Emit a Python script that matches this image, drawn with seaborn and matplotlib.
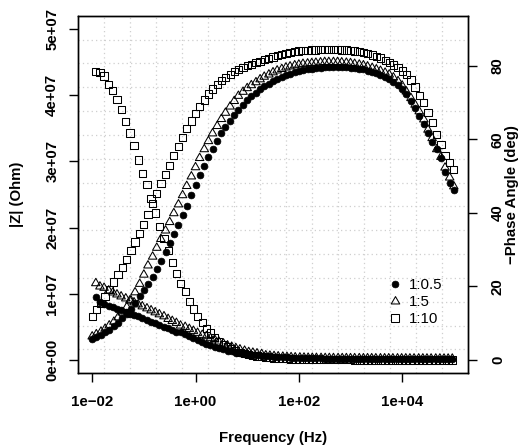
import numpy as np
import pandas as pd
import matplotlib
matplotlib.use("Agg")
import matplotlib.pyplot as plt
from matplotlib.lines import Line2D
from matplotlib.path import Path
import seaborn as sns

# ---------------- data ----------------
SERIES = ["1:0.5", "1:5", "1:10"]

# log10 of frequency (Hz) for the phase points
LOG_FREQ_PHASE = [
    -2.00, -1.92, -1.83, -1.75, -1.67, -1.58, -1.50, -1.42, -1.33, -1.25, -1.17, -1.08,
    -1.00, -0.92, -0.83, -0.75, -0.67, -0.58, -0.50, -0.42, -0.33, -0.25, -0.17, -0.08,
    0.00, 0.08, 0.17, 0.25, 0.33, 0.42, 0.50, 0.58, 0.67, 0.75, 0.83, 0.92,
    1.00, 1.08, 1.17, 1.25, 1.33, 1.42, 1.50, 1.58, 1.67, 1.75, 1.83, 1.92,
    2.00, 2.08, 2.17, 2.25, 2.33, 2.42, 2.50, 2.58, 2.67, 2.75, 2.83, 2.92,
    3.00, 3.08, 3.17, 3.25, 3.33, 3.42, 3.50, 3.58, 3.67, 3.75, 3.83, 3.92,
    4.00, 4.08, 4.17, 4.25, 4.33, 4.42, 4.50, 4.58, 4.67, 4.75, 4.83, 4.92,
    5.00,
]
# log10 of frequency (Hz) for the |Z| points
LOG_FREQ_ZMOD = [
    -1.93, -1.85, -1.77, -1.68, -1.60, -1.52, -1.44, -1.35, -1.27, -1.19,
    -1.11, -1.03, -0.94, -0.86, -0.78, -0.70, -0.61, -0.53, -0.45, -0.37,
    -0.29, -0.20, -0.12, -0.04, 0.04, 0.13, 0.21, 0.29, 0.37, 0.45,
    0.54, 0.62, 0.70, 0.78, 0.86, 0.95, 1.03, 1.11, 1.19, 1.28,
    1.36, 1.44, 1.52, 1.60, 1.69, 1.77, 1.85, 1.93, 2.02, 2.10,
    2.18, 2.26, 2.34, 2.43, 2.51, 2.59, 2.67, 2.76, 2.84, 2.92,
    3.00, 3.08, 3.17, 3.25, 3.33, 3.41, 3.49, 3.58, 3.66, 3.74,
    3.82, 3.91, 3.99, 4.07, 4.15, 4.23, 4.32, 4.40, 4.48, 4.56,
    4.65, 4.73, 4.81, 4.89, 4.97,
]

# |Z| in units of 1e7 Ohm
ZMOD_1_05 = [
    0.95, 0.87, 0.85, 0.82, 0.80, 0.77, 0.75, 0.73, 0.70, 0.68,
    0.66, 0.63, 0.61, 0.58, 0.56, 0.53, 0.50, 0.48, 0.45, 0.43,
    0.42, 0.39, 0.36, 0.33, 0.30, 0.28, 0.25, 0.23, 0.20, 0.18,
    0.16, 0.14, 0.13, 0.11, 0.10, 0.09, 0.08, 0.075, 0.07, 0.065,
    0.06, 0.055, 0.05, 0.046, 0.042, 0.039, 0.036, 0.033, 0.031, 0.029,
    0.027, 0.026, 0.025, 0.024, 0.023, 0.022, 0.022, 0.021, 0.021, 0.020,
    0.020, 0.020, 0.020, 0.019, 0.019, 0.019, 0.019, 0.018, 0.018, 0.018,
    0.018, 0.017, 0.017, 0.017, 0.017, 0.016, 0.016, 0.016, 0.016, 0.015,
    0.015, 0.015, 0.015, 0.014, 0.014,
]
ZMOD_1_5 = [
    1.16, 1.11, 1.09, 1.05, 1.02, 0.99, 0.96, 0.93, 0.90, 0.87,
    0.84, 0.81, 0.78, 0.75, 0.72, 0.69, 0.66, 0.62, 0.59, 0.56,
    0.52, 0.50, 0.47, 0.44, 0.41, 0.38, 0.36, 0.33, 0.31, 0.28,
    0.25, 0.22, 0.20, 0.18, 0.16, 0.14, 0.12, 0.11, 0.10, 0.09,
    0.07, 0.065, 0.06, 0.055, 0.05, 0.046, 0.043, 0.04, 0.038, 0.036,
    0.034, 0.033, 0.032, 0.031, 0.030, 0.030, 0.029, 0.029, 0.028, 0.028,
    0.027, 0.027, 0.027, 0.026, 0.026, 0.026, 0.025, 0.025, 0.025, 0.025,
    0.024, 0.024, 0.024, 0.024, 0.023, 0.023, 0.023, 0.023, 0.022, 0.022,
    0.022, 0.022, 0.021, 0.021, 0.021,
]
ZMOD_1_10 = [
    4.36, 4.34, 4.29, 4.16, 4.07, 3.93, 3.78, 3.60, 3.43, 3.24,
    3.02, 2.82, 2.65, 2.44, 2.22, 2.02, 1.84, 1.66, 1.47, 1.31,
    1.16, 1.03, 0.89, 0.77, 0.66, 0.57, 0.48, 0.41, 0.34, 0.28,
    0.24, 0.21, 0.17, 0.14, 0.12, 0.10, 0.085, 0.07, 0.06, 0.05,
    0.042, 0.036, 0.03, 0.026, 0.022, 0.019, 0.016, 0.014, 0.012, 0.010,
    0.009, 0.008, 0.007, 0.006, 0.005, 0.005, 0.004, 0.004, 0.003, 0.003,
    0.003, 0.002, 0.002, 0.002, 0.002, 0.002, 0.002, 0.002, 0.002, 0.001,
    0.001, 0.001, 0.001, 0.001, 0.001, 0.001, 0.001, 0.001, 0.001, 0.001,
    0.001, 0.001, 0.001, 0.001, 0.001,
]

# -Phase angle in degrees
PHASE_1_05 = [
    5.7, 6.2, 6.8, 7.5, 8.3, 9.2, 10.2, 11.3, 12.6, 14.0,
    15.6, 17.4, 19.0, 20.8, 22.7, 24.8, 27.0, 29.3, 31.9, 34.3,
    36.8, 39.3, 42.0, 44.8, 47.5, 50.2, 52.8, 55.2, 57.5, 59.6,
    61.6, 63.4, 65.1, 66.6, 68.0, 69.3, 70.6, 71.7, 72.7, 73.6,
    74.4, 75.1, 75.8, 76.4, 76.9, 77.4, 77.8, 78.2, 78.5, 78.8,
    79.0, 79.2, 79.4, 79.5, 79.6, 79.7, 79.7, 79.7, 79.7, 79.6,
    79.5, 79.4, 79.2, 79.0, 78.7, 78.4, 78.0, 77.6, 77.0, 76.4,
    75.6, 74.8, 73.7, 72.3, 70.5, 68.4, 66.4, 64.2, 61.6, 59.2,
    57.3, 54.8, 51.0, 48.2, 46.3,
]
PHASE_1_5 = [
    6.4, 7.0, 7.7, 8.5, 9.4, 10.4, 11.6, 12.9, 14.4, 16.2,
    18.4, 20.7, 23.2, 25.7, 28.1, 30.5, 32.9, 35.2, 37.5, 39.9,
    42.3, 44.8, 47.3, 49.9, 52.4, 54.9, 57.3, 59.5, 61.6, 63.6,
    65.5, 67.2, 68.9, 70.4, 71.8, 72.9, 73.9, 74.7, 75.5, 76.3,
    77.0, 77.6, 78.2, 78.7, 79.1, 79.5, 79.8, 80.1, 80.3, 80.5,
    80.6, 80.7, 80.8, 80.9, 81.0, 81.0, 81.0, 81.0, 80.9, 80.8,
    80.7, 80.5, 80.3, 80.1, 79.8, 79.4, 79.0, 78.6, 78.1, 77.6,
    76.8, 75.8, 74.6, 73.0, 71.2, 69.4, 67.6, 65.4, 62.6, 60.3,
    57.3, 55.2, 52.3, 49.6, 47.2,
]
PHASE_1_10 = [
    11.8, 13.7, 15.4, 17.3, 19.2, 21.2, 23.3, 25.2, 27.4, 29.8,
    32.1, 34.3, 36.9, 39.6, 42.6, 45.3, 48.0, 50.4, 52.9, 55.5,
    58.0, 60.4, 62.9, 65.0, 67.0, 68.9, 70.7, 72.3, 73.7, 74.9,
    76.0, 76.8, 77.7, 78.4, 79.0, 79.5, 80.0, 80.4, 80.8, 81.2,
    81.6, 82.0, 82.4, 82.8, 83.1, 83.4, 83.6, 83.8, 84.0, 84.1,
    84.2, 84.3, 84.3, 84.4, 84.4, 84.4, 84.4, 84.4, 84.3, 84.3,
    84.2, 84.0, 83.8, 83.6, 83.3, 82.9, 82.6, 82.1, 81.5, 80.9,
    80.2, 79.6, 78.6, 77.6, 76.1, 74.2, 72.0, 70.0, 67.2, 64.6,
    61.3, 58.6, 55.5, 53.6, 51.9,
]

X_TICKS = [1e-2, 1e0, 1e2, 1e4]
X_TICK_LABELS = ["1e\u221202", "1e+00", "1e+02", "1e+04"]
Z_TICKS = [0, 1e7, 2e7, 3e7, 4e7, 5e7]
Z_TICK_LABELS = ["0e+00", "1e+07", "2e+07", "3e+07", "4e+07", "5e+07"]
PHASE_TICKS = [0, 20, 40, 60, 80]
PHASE_TICK_LABELS = ["0", "20", "40", "60", "80"]
Z_UNIT = 1e7

# ---------------- tables ----------------
zmod_vals = {"1:0.5": ZMOD_1_05, "1:5": ZMOD_1_5, "1:10": ZMOD_1_10}
phase_vals = {"1:0.5": PHASE_1_05, "1:5": PHASE_1_5, "1:10": PHASE_1_10}
zdf = pd.concat([
    pd.DataFrame({"freq": 10 ** np.array(LOG_FREQ_ZMOD),
                  "zmod": np.array(zmod_vals[s]) * Z_UNIT, "ratio": s})
    for s in SERIES], ignore_index=True)
pdf = pd.concat([
    pd.DataFrame({"freq": 10 ** np.array(LOG_FREQ_PHASE),
                  "phase": np.array(phase_vals[s]), "ratio": s})
    for s in SERIES], ignore_index=True)

# ---------------- style ----------------
sns.set_style("white")
plt.rcParams["font.family"] = ["Liberation Sans", "DejaVu Sans"]
for key in ("text.color", "axes.labelcolor", "xtick.color", "ytick.color", "axes.edgecolor"):
    plt.rcParams[key] = "black"
FS = 10.8

TRI = Path([(0.0, 1.0), (0.866, -0.5), (-0.866, -0.5), (0.0, 1.0)],
           [Path.MOVETO, Path.LINETO, Path.LINETO, Path.CLOSEPOLY])
STYLE = {
    "1:0.5": dict(marker="o", s=24, facecolor="black", edgecolor="black", linewidth=0.5),
    "1:5": dict(marker=TRI, s=50, facecolor="none", edgecolor="black", linewidth=0.75),
    "1:10": dict(marker="s", s=27, facecolor="none", edgecolor="black", linewidth=0.75),
}
LEG = {
    "1:0.5": dict(marker="o", markersize=4.9, markerfacecolor="black", markeredgecolor="black", markeredgewidth=0.5),
    "1:5": dict(marker=TRI, markersize=7.1, markerfacecolor="none", markeredgecolor="black", markeredgewidth=0.75),
    "1:10": dict(marker="s", markersize=5.2, markerfacecolor="none", markeredgecolor="black", markeredgewidth=0.75),
}

fig = plt.figure(figsize=(5.23, 4.45), dpi=100)
fig.subplots_adjust(left=0.1486, right=0.8954, top=0.9647, bottom=0.1611)
ax = fig.add_subplot(111)
ax2 = ax.twinx()

# grid: 15 x 15 equal divisions of the plot region (like R's grid(15, 15))
for k in range(1, 15):
    ax.plot([k / 15, k / 15], [0, 1], transform=ax.transAxes, color="#cfcfcf",
            lw=0.9, ls=(0, (1, 2.5)), zorder=0)
    ax.plot([0, 1], [k / 15, k / 15], transform=ax.transAxes, color="#cfcfcf",
            lw=0.9, ls=(0, (1, 2.5)), zorder=0)

for s in SERIES:
    sns.scatterplot(data=zdf[zdf["ratio"] == s], x="freq", y="zmod", ax=ax,
                    legend=False, zorder=3, **STYLE[s])
    sns.scatterplot(data=pdf[pdf["ratio"] == s], x="freq", y="phase", ax=ax2,
                    legend=False, zorder=3, **STYLE[s])

ax.set_xscale("log")
ax.set_xlim(10 ** -2.28, 10 ** 5.28)
ax.set_ylim(-0.2e7, 5.2e7)
ax2.set_ylim(-3.6, 93.6)

ax.set_xticks(X_TICKS)
ax.set_xticklabels(X_TICK_LABELS)
ax.xaxis.set_minor_locator(matplotlib.ticker.NullLocator())
ax.set_yticks(Z_TICKS)
ax.set_yticklabels(Z_TICK_LABELS, rotation=90, va="center")
ax2.set_yticks(PHASE_TICKS)
ax2.set_yticklabels(PHASE_TICK_LABELS, rotation=90, va="center")

for a in (ax, ax2):
    for sp in a.spines.values():
        sp.set_linewidth(1.0)
        sp.set_color("black")
ax.tick_params(axis="x", which="major", direction="out", length=6.8, width=1.0,
               pad=9, labelsize=FS, bottom=True, top=False, colors="black")
ax.tick_params(axis="y", which="major", direction="out", length=6.8, width=1.0,
               pad=6.5, labelsize=FS, left=True, right=False, colors="black")
ax2.tick_params(axis="y", which="major", direction="out", length=6.8, width=1.0,
                pad=9.5, labelsize=FS, right=True, left=False, colors="black")
for lab in ax.get_xticklabels() + ax.get_yticklabels() + ax2.get_yticklabels():
    lab.set_fontweight("bold")

ax.set_xlabel("Frequency (Hz)", fontsize=FS, fontweight="bold", color="black")
ax.set_ylabel("|Z| (Ohm)", fontsize=FS, fontweight="bold", color="black")
ax2.set_ylabel("\u2212Phase Angle (deg)", fontsize=FS, fontweight="bold", rotation=90,
               color="black")
ax.xaxis.set_label_coords(0.5, -0.182)
ax.xaxis.label.set_va("center")
ax.yaxis.set_label_coords(-0.155, 0.5)
ax.yaxis.label.set_va("center")
ax2.yaxis.set_label_coords(1.112, 0.5)
ax2.yaxis.label.set_va("center")

handles = [Line2D([], [], ls="", **LEG[s]) for s in SERIES]
leg = fig.legend(handles, SERIES, loc="center left",
                 bbox_to_anchor=(387.5 / 523, 1 - 302.0 / 445), bbox_transform=fig.transFigure,
                 frameon=False, fontsize=FS, handlelength=1.0, handletextpad=0.4,
                 labelspacing=0.2, borderpad=0, borderaxespad=0)
for t in leg.get_texts():
    t.set_color("black")

fig.savefig("out.png", dpi=100)
